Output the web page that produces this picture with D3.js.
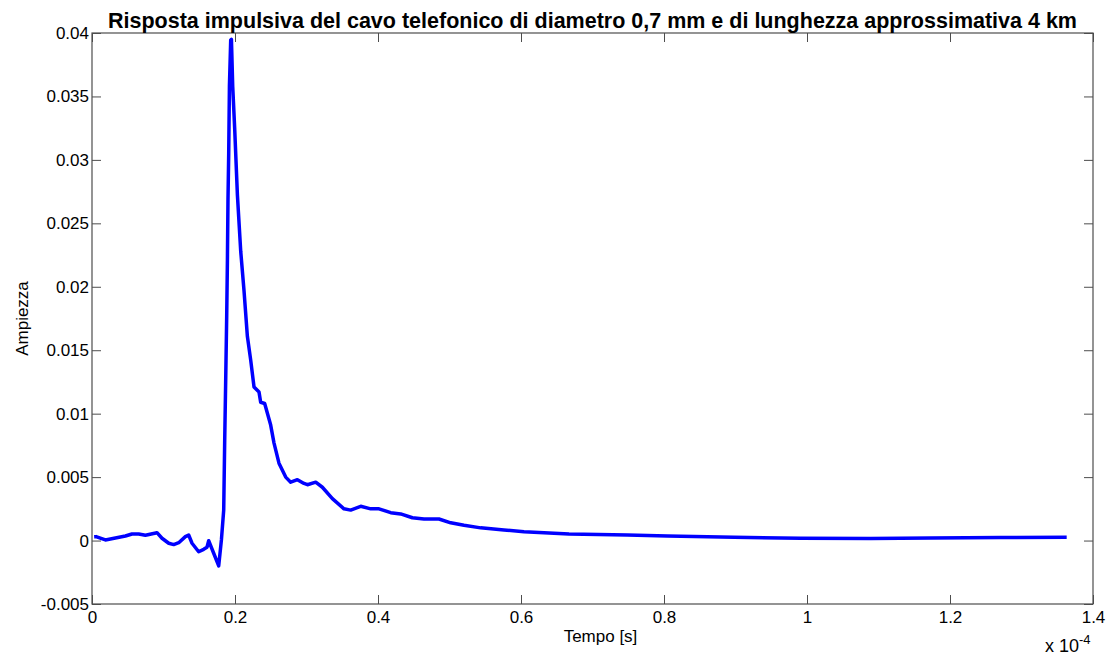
<!DOCTYPE html>
<html>
<head>
<meta charset="utf-8">
<script src="https://cdn.jsdelivr.net/npm/d3@7"></script>
<style>
  body { margin: 0; background: #fff; }
  svg text { font-family: "Liberation Sans", Arial, sans-serif; fill: #000; }
</style>
</head>
<body>
<div class="chart"></div>
<script>
// DATA ------------------------------------
// time in units of 1e-4 s
const tempo = [0.003, 0.0056, 0.0187, 0.0327, 0.0467, 0.0559, 0.0653, 0.0747, 0.0909, 0.0979,
    0.1073, 0.1143, 0.1213, 0.1306, 0.1352, 0.1399, 0.1492, 0.1562, 0.1608, 0.1632,
    0.1702, 0.1772, 0.1810, 0.1842, 0.1856, 0.1870, 0.1884, 0.1894, 0.1902, 0.1912,
    0.1922, 0.1940, 0.1950, 0.1968, 0.1996, 0.2034, 0.2080, 0.2126, 0.2173, 0.2220,
    0.2266, 0.2336, 0.2359, 0.2415, 0.2499, 0.2545, 0.2615, 0.2709, 0.2779, 0.2873,
    0.2965, 0.3013, 0.3129, 0.3222, 0.3362, 0.3524, 0.3618, 0.3758, 0.3898, 0.4014,
    0.4178, 0.4317, 0.4481, 0.4643, 0.4853, 0.5017, 0.5203, 0.5436, 0.5762, 0.6042,
    0.6322, 0.6671, 0.7488, 0.8048, 0.8979, 0.9912, 1.089, 1.173, 1.271, 1.3632]
const ampiezza = [0.0003, 0.00031, 0.00005, 0.0002, 0.00036, 0.00052, 0.00052, 0.00042, 0.00062, 0.00018,
    -0.00021, -0.00032, -0.00017, 0.00031, 0.00044, -0.00021, -0.00088, -0.00069, -0.00053, -0.00001,
    -0.001, -0.002, 0.00005, 0.0024, 0.0079, 0.0127, 0.0177, 0.0221, 0.0269, 0.0305,
    0.0358, 0.03945, 0.0395, 0.0358, 0.0324, 0.0272, 0.0228, 0.0197, 0.0161, 0.0142,
    0.0121, 0.0117, 0.0109, 0.0108, 0.0091, 0.0077, 0.0061, 0.0050, 0.0046, 0.0048,
    0.0045, 0.0044, 0.0046, 0.0042, 0.0033, 0.0025, 0.0024, 0.0027, 0.0025, 0.0025,
    0.0022, 0.0021, 0.0018, 0.0017, 0.0017, 0.0014, 0.0012, 0.0010, 0.00084, 0.00070,
    0.00062, 0.00052, 0.00044, 0.00036, 0.00026, 0.00018, 0.00017, 0.0002, 0.00024, 0.00026]

const xTicks = [0, 0.2, 0.4, 0.6, 0.8, 1, 1.2, 1.4]
const xTickLabels = ["0", "0.2", "0.4", "0.6", "0.8", "1", "1.2", "1.4"]
const yTicks = [-0.005, 0, 0.005, 0.01, 0.015, 0.02, 0.025, 0.03, 0.035, 0.04]
const yTickLabels = ["-0.005", "0", "0.005", "0.01", "0.015", "0.02", "0.025", "0.03", "0.035", "0.04"]

// CHART INIT ------------------------------
const margin = {top: 33, right: 22, bottom: 55, left: 92}
const width = 1115 - margin.left - margin.right
const height = 659 - margin.top - margin.bottom

const svg_base = d3.select(".chart").append("svg")
    .attr("width", 1115)
    .attr("height", 659)
const svg = svg_base.append("g")
    .attr("transform", `translate(${margin.left},${margin.top})`)

const xScale = d3.scaleLinear().domain([0, 1.4]).range([0, width])
const yScale = d3.scaleLinear().domain([-0.005, 0.04]).range([height, 0])

const axisColor = "#4d4d4d"
const tickLen = 9

// axes: labelled bottom/left, mirrored ticks top/right (ticks point inward)
const xAx = d3.axisBottom(xScale).tickValues(xTicks)
    .tickFormat((d, i) => xTickLabels[i]).tickSizeInner(-tickLen).tickSizeOuter(0).tickPadding(7)
const yAx = d3.axisLeft(yScale).tickValues(yTicks)
    .tickFormat((d, i) => yTickLabels[i]).tickSizeInner(-tickLen).tickSizeOuter(0).tickPadding(3)

function styleAxis(g) {
    g.select(".domain").remove()
    g.selectAll(".tick line").attr("stroke", axisColor)
    g.selectAll(".tick text").style("font-size", "17px").attr("fill", "#000")
}

svg.append("g").attr("transform", `translate(0,${height})`).call(xAx).call(styleAxis)
svg.append("g").call(yAx).call(styleAxis)
svg.append("g").call(d3.axisTop(xScale).tickValues(xTicks).tickFormat("").tickSizeInner(-tickLen).tickSizeOuter(0)).call(styleAxis)
svg.append("g").attr("transform", `translate(${width},0)`)
    .call(d3.axisRight(yScale).tickValues(yTicks).tickFormat("").tickSizeInner(-tickLen).tickSizeOuter(0)).call(styleAxis)

// frame
svg.append("rect")
    .attr("x", 0).attr("y", 0).attr("width", width).attr("height", height)
    .attr("fill", "none").attr("stroke", axisColor).attr("stroke-width", 1.2)

// line
const line = d3.line()
    .x((d, i) => xScale(tempo[i]))
    .y(d => yScale(d))
svg.append("path")
    .datum(ampiezza)
    .attr("d", line)
    .attr("fill", "none")
    .attr("stroke", "#0000ff")
    .attr("stroke-width", 3.5)
    .attr("stroke-linejoin", "round")

// labels
svg.append("text")
    .attr("x", width / 2).attr("y", -5)
    .attr("text-anchor", "middle")
    .style("font-size", "21.5px").style("font-weight", "bold")
    .text("Risposta impulsiva del cavo telefonico di diametro 0,7 mm e di lunghezza approssimativa 4 km")

svg.append("text")
    .attr("x", width / 2 + 8).attr("y", height + 38)
    .attr("text-anchor", "middle")
    .style("font-size", "17px")
    .text("Tempo [s]")

svg.append("text")
    .attr("transform", `translate(${-64},${height / 2}) rotate(-90)`)
    .attr("text-anchor", "middle")
    .style("font-size", "17px")
    .text("Ampiezza")

const expo = svg.append("text")
    .attr("x", width - 48).attr("y", height + 48)
    .style("font-size", "18px")
expo.append("tspan").text("x 10")
expo.append("tspan").attr("dy", -8).style("font-size", "13px").text("-4")
</script>
</body>
</html>
